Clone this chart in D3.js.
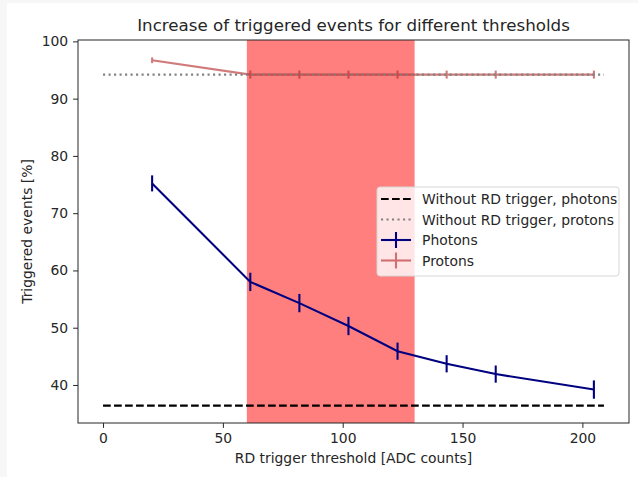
<!DOCTYPE html>
<html>
<head>
<meta charset="utf-8">
<script src="https://cdn.jsdelivr.net/npm/d3@7"></script>
<style>
  body { margin: 0; background: #f7f7f7; }
  svg { display: block; font-family: "DejaVu Sans", sans-serif; }
</style>
</head>
<body>
<svg width="638" height="477"></svg>
<script>
// data
const thresholds = [20.48, 61.44, 81.92, 102.4, 122.88, 143.36, 163.84, 204.8];
const photons = [75.2, 58.0, 54.3, 50.3, 45.9, 43.7, 41.9, 39.2];
const photonErr = [1.4, 1.6, 1.6, 1.6, 1.5, 1.5, 1.5, 1.6];
const protons = [96.7, 94.2, 94.2, 94.2, 94.2, 94.2, 94.2, 94.2];
const protonErr = [0.5, 0.7, 0.7, 0.7, 0.7, 0.7, 0.7, 0.7];
const baseRange = [0, 209];
const photonsNoRD = 36.4;
const protonsNoRD = 94.2;
const spanRange = [60, 130];
const xTicks = [0, 50, 100, 150, 200];
const yTicks = [40, 50, 60, 70, 80, 90, 100];

const svg = d3.select("svg");
svg.append("rect").attr("x", 7).attr("y", 3).attr("width", 631).attr("height", 474).attr("fill", "#fff");

const axLeft = 78, axRight = 629, axTop = 40, axBottom = 423;
const fs = 13.9; // 10pt at 100 dpi
const lw = 2.08;
const dashed = "7.7,3.3";
const dotted = "2.1,3.4";

// matplotlib style 5% margins
const pad = (lo, hi) => [lo - 0.05 * (hi - lo), hi + 0.05 * (hi - lo)];
const xDom = pad(baseRange[0], baseRange[1]);
const yLo = Math.min(photonsNoRD, d3.min(photons.map((v, i) => v - photonErr[i])));
const yHi = d3.max(protons.map((v, i) => v + protonErr[i]));
const yDom = pad(yLo, yHi);

const x = d3.scaleLinear().domain(xDom).range([axLeft, axRight]);
const y = d3.scaleLinear().domain(yDom).range([axBottom, axTop]);

const graf = svg.append("g");

// shaded threshold region
graf.append("rect")
  .attr("x", x(spanRange[0]))
  .attr("y", axTop)
  .attr("width", x(spanRange[1]) - x(spanRange[0]))
  .attr("height", axBottom - axTop)
  .attr("fill", "#ff0000")
  .attr("fill-opacity", 0.5);

// dashed baseline photons
graf.append("line")
  .attr("x1", x(baseRange[0])).attr("x2", x(baseRange[1]))
  .attr("y1", y(photonsNoRD)).attr("y2", y(photonsNoRD))
  .attr("stroke", "#000").attr("stroke-width", lw)
  .attr("stroke-dasharray", dashed);

const line = d3.line().x((d) => x(d[0])).y((d) => y(d[1]));

// protons
const protonColor = "#b22222";
const pg = graf.append("g").attr("opacity", 0.6);
pg.append("path")
  .attr("d", line(thresholds.map((t, i) => [t, protons[i]])))
  .attr("fill", "none").attr("stroke", protonColor).attr("stroke-width", lw);
pg.selectAll("line")
  .data(thresholds)
  .enter()
  .append("line")
  .attr("x1", (d) => x(d)).attr("x2", (d) => x(d))
  .attr("y1", (d, i) => y(protons[i] - protonErr[i]))
  .attr("y2", (d, i) => y(protons[i] + protonErr[i]))
  .attr("stroke", protonColor).attr("stroke-width", lw);

// dotted baseline protons
graf.append("line")
  .attr("x1", x(baseRange[0])).attr("x2", x(baseRange[1]))
  .attr("y1", y(protonsNoRD)).attr("y2", y(protonsNoRD))
  .attr("stroke", "#808080").attr("stroke-width", lw)
  .attr("stroke-dasharray", dotted);

// photons
const photonColor = "#000080";
graf.append("path")
  .attr("d", line(thresholds.map((t, i) => [t, photons[i]])))
  .attr("fill", "none").attr("stroke", photonColor).attr("stroke-width", lw);
graf.append("g").selectAll("line")
  .data(thresholds)
  .enter()
  .append("line")
  .attr("x1", (d) => x(d)).attr("x2", (d) => x(d))
  .attr("y1", (d, i) => y(photons[i] - photonErr[i]))
  .attr("y2", (d, i) => y(photons[i] + photonErr[i]))
  .attr("stroke", photonColor).attr("stroke-width", lw);

// axes
const xAxis = svg.append("g")
  .attr("transform", `translate(0,${axBottom})`)
  .call(d3.axisBottom(x).tickValues(xTicks).tickSize(4.9).tickPadding(4.9).tickFormat(d3.format("d")));
const yAxis = svg.append("g")
  .attr("transform", `translate(${axLeft},0)`)
  .call(d3.axisLeft(y).tickValues(yTicks).tickSize(4.9).tickPadding(4.9).tickFormat(d3.format("d")));
[xAxis, yAxis].forEach((a) => {
  a.selectAll("text").attr("font-size", fs).attr("fill", "#262626").attr("font-family", "DejaVu Sans");
  a.selectAll("line").attr("stroke", "#262626");
  a.select(".domain").remove();
});
svg.append("rect")
  .attr("x", axLeft).attr("y", axTop)
  .attr("width", axRight - axLeft).attr("height", axBottom - axTop)
  .attr("fill", "none").attr("stroke", "#262626").attr("stroke-width", 1);

// titles
svg.append("text")
  .attr("x", (axLeft + axRight) / 2).attr("y", 31)
  .attr("text-anchor", "middle").attr("font-size", 16.7).attr("fill", "#262626")
  .text("Increase of triggered events for different thresholds");
svg.append("text")
  .attr("x", (axLeft + axRight) / 2).attr("y", 463)
  .attr("text-anchor", "middle").attr("font-size", fs).attr("fill", "#262626")
  .text("RD trigger threshold [ADC counts]");
svg.append("text")
  .attr("transform", `translate(32,${(axTop + axBottom) / 2}) rotate(-90)`)
  .attr("text-anchor", "middle").attr("font-size", fs).attr("fill", "#262626")
  .text("Triggered events [%]");

// legend
const legendItems = [
  { label: "Without RD trigger, photons", color: "#000", dash: dashed, bar: false, op: 1 },
  { label: "Without RD trigger, protons", color: "#808080", dash: dotted, bar: false, op: 1 },
  { label: "Photons", color: photonColor, dash: null, bar: true, op: 1 },
  { label: "Protons", color: protonColor, dash: null, bar: true, op: 0.6 },
];
const lg = svg.append("g").attr("transform", "translate(377,187)");
lg.append("rect")
  .attr("width", 242).attr("height", 89).attr("rx", 3)
  .attr("fill", "#fff").attr("fill-opacity", 0.8)
  .attr("stroke", "#d6d6d6").attr("stroke-width", 1);
const rows = lg.selectAll("g.row")
  .data(legendItems)
  .enter()
  .append("g")
  .attr("class", "row")
  .attr("transform", (d, i) => `translate(0,${12 + i * 20.5})`);
const handles = rows.append("g").attr("opacity", (d) => d.op);
handles.append("line")
  .attr("x1", 4).attr("x2", 34).attr("y1", 0).attr("y2", 0)
  .attr("stroke", (d) => d.color).attr("stroke-width", lw)
  .attr("stroke-dasharray", (d) => d.dash);
handles.filter((d) => d.bar).append("line")
  .attr("x1", 19).attr("x2", 19).attr("y1", -8).attr("y2", 8)
  .attr("stroke", (d) => d.color).attr("stroke-width", lw);
rows.append("text")
  .attr("x", 45).attr("y", 5)
  .attr("font-size", fs).attr("fill", "#262626")
  .text((d) => d.label);
</script>
</body>
</html>
